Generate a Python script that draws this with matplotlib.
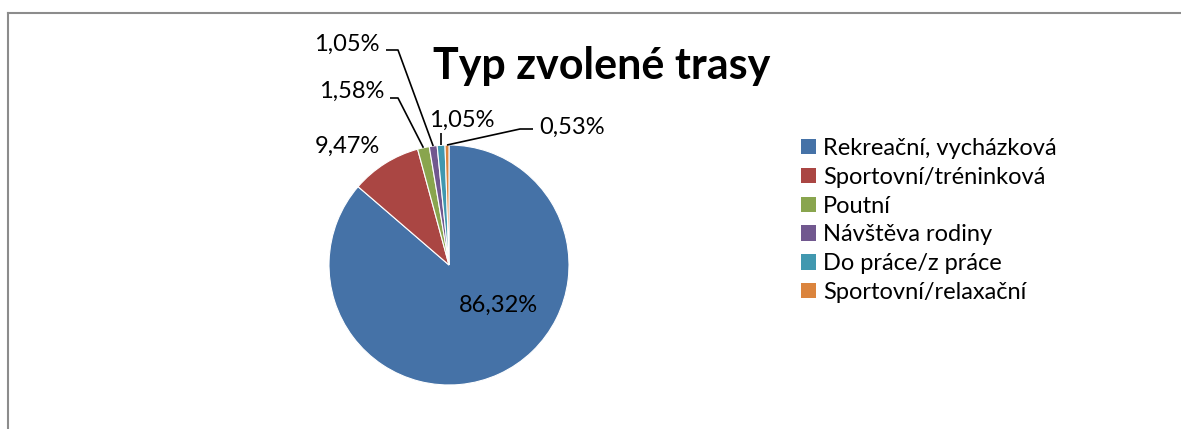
import matplotlib
matplotlib.use("Agg")
import matplotlib.pyplot as plt
import matplotlib.patches as mpatches
import numpy as np

plt.rcParams["font.family"] = ["Lato", "DejaVu Sans"]

# --- data ---
categories = [
    "Rekreační, vycházková",
    "Sportovní/tréninková",
    "Poutní",
    "Návštěva rodiny",
    "Do práce/z práce",
    "Sportovní/relaxační",
]
shares = [86.32, 9.47, 1.58, 1.05, 1.05, 0.53]
share_labels = ["86,32%", "9,47%", "1,58%", "1,05%", "1,05%", "0,53%"]
colors = ["#4572A7", "#AA4643", "#89A54E", "#71588F", "#4198AF", "#DB843D"]
title = "Typ zvolené trasy"

W, H = 1181, 429
fig = plt.figure(figsize=(W / 100, H / 100), dpi=100)

# chart-area border (only top and left edges are visible in the crop)
fig.add_artist(plt.Line2D([7.5 / W, 1], [1 - 12.5 / H, 1 - 12.5 / H], color="#8c8c8c", lw=1.5))
fig.add_artist(plt.Line2D([7.5 / W, 7.5 / W], [0, 1 - 12.5 / H], color="#8c8c8c", lw=1.5))

# pie axes: centre (449, 265) px, radius 120 px
cx, cy, r = 449, 265, 120
ax = fig.add_axes([(cx - r) / W, (H - cy - r) / H, 2 * r / W, 2 * r / H])
wedges, _ = ax.pie(
    shares, colors=colors, startangle=90, counterclock=False,
    wedgeprops=dict(edgecolor="white", linewidth=0.8),
)
ax.set_xlim(-1, 1)
ax.set_ylim(-1, 1)
ax.set_aspect("equal")
ax.axis("off")


def px(x, y):
    """pixel position -> pie data coordinates"""
    return (x - cx) / r, (cy - y) / r


def mid(w, rr=1.0):
    a = np.deg2rad((w.theta1 + w.theta2) / 2)
    return rr * np.cos(a), rr * np.sin(a)


fs = 17
kw = dict(fontsize=fs, va="center", clip_on=False)

ax.text(*px(498, 305), share_labels[0], ha="center", **kw)
ax.text(*px(347, 146), share_labels[1], ha="center", **kw)
ax.text(*px(384, 91), share_labels[2], ha="right", **kw)
ax.text(*px(380, 44), share_labels[3], ha="right", **kw)
ax.text(*px(462, 120), share_labels[4], ha="center", **kw)
ax.text(*px(539, 127), share_labels[5], ha="left", **kw)

# leader lines: slice edge -> elbow -> label
lk = dict(color="black", lw=1.2, clip_on=False, solid_capstyle="butt")
leaders = {
    2: [px(398, 98), px(390, 98)],
    3: [px(398, 50), px(386, 50)],
    4: [px(441, 133)],
    5: [px(520, 129), px(533, 129)],
}
for i, pts in leaders.items():
    x0, y0 = mid(wedges[i])
    if i == 4:
        pts = [(x0, pts[0][1])]
    xs = [x0] + [p[0] for p in pts]
    ys = [y0] + [p[1] for p in pts]
    ax.plot(xs, ys, **lk)

fig.text(602 / W, 1 - 66 / H, title, fontsize=31, fontweight="bold",
         ha="center", va="center")

handles = [mpatches.Patch(facecolor=c, edgecolor="none") for c in colors]
fig.legend(
    handles, categories, loc="upper left",
    bbox_to_anchor=(801 / W, 1 - 138 / H), frameon=False, fontsize=17,
    handlelength=0.62, handleheight=0.62, handletextpad=0.32,
    labelspacing=0.33, borderpad=0, borderaxespad=0,
)

fig.savefig("out.png", dpi=100)
